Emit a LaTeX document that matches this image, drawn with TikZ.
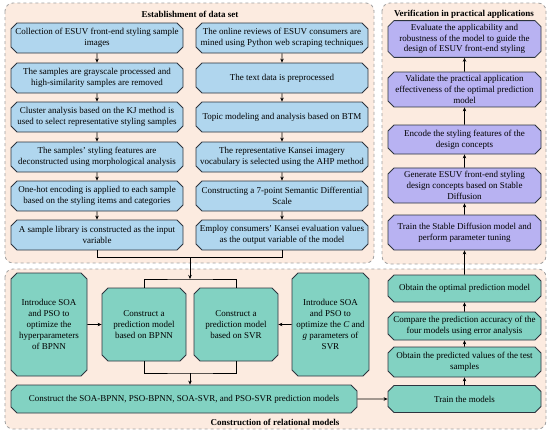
\documentclass[tikz,border=0pt]{standalone}
\usepackage{fontspec}
\setmainfont{Liberation Serif}
\usepackage{tikz}
\usetikzlibrary{shapes.misc, arrows.meta, positioning, backgrounds}
\definecolor{cPanel}{RGB}{252,235,224}
\definecolor{cDash}{RGB}{160,160,160}
\definecolor{cEdge}{RGB}{45,52,62}
\definecolor{cBlue}{RGB}{176,214,238}
\definecolor{cTeal}{RGB}{130,210,194}
\definecolor{cViolet}{RGB}{184,178,242}
\tikzset{
	box/.style     ={chamfered rectangle, chamfered rectangle xsep=3pt, chamfered rectangle ysep=3pt, draw=cEdge, line width=0.8pt, align=center, inner sep=0.5pt},
	databox/.style ={box, fill=cBlue, minimum width=172pt, minimum height=30pt},
	verbox/.style  ={box, fill=cViolet, minimum width=153pt},
	relbox/.style  ={box, fill=cTeal},
	panel/.style   ={draw=cDash, dashed, line width=0.8pt, rounded corners=8pt, fill=cPanel},
	ptitle/.style  ={font=\fontsize{9}{10}\selectfont\bfseries},
	link/.style    ={-{Stealth[length=4pt, width=3.5pt]}, line width=0.6pt},
	plain/.style   ={line width=0.6pt},
}
\begin{document}
\begin{tikzpicture}[x=1pt, y=-1pt, font=\fontsize{9}{10.8}\selectfont]
	\useasboundingbox (0,0) rectangle (550,434);
	% panels
	\draw[panel] (5,3) rectangle (374,263);
	\draw[panel] (382,3) rectangle (546,264);
	\draw[panel] (5,269) rectangle (546,429);
	\node[ptitle] (tdata) at (190,14) {Establishment of data set};
	\node[ptitle] (tver) at (464,14) {Verification in practical applications};
	\node[ptitle] (trel) at (275,422) {Construction of relational models};

	% data set, left column
	\node[databox] (l1) at (97,38) {Collection of ESUV front-end styling sample\\images};
	\node[databox] (l2) at (97,78) {The samples are grayscale processed and\\high-similarity samples are removed};
	\node[databox] (l3) at (97,117) {Cluster analysis based on the KJ method is\\used to select representative styling samples};
	\node[databox] (l4) at (97,157) {The samples' styling features are\\deconstructed using morphological analysis};
	\node[databox] (l5) at (97,196) {One-hot encoding is applied to each sample\\based on the styling items and categories};
	\node[databox] (l6) at (97,235) {A sample library is constructed as the input\\variable};
	% data set, right column
	\node[databox] (r1) at (282,38) {The online reviews of ESUV consumers are\\mined using Python web scraping techniques};
	\node[databox] (r2) at (282,78) {The text data is preprocessed};
	\node[databox] (r3) at (282,117) {Topic modeling and analysis based on BTM};
	\node[databox] (r4) at (282,157) {The representative Kansei imagery\\vocabulary is selected using the AHP method};
	\node[databox] (r5) at (282,196) {Constructing a 7-point Semantic Differential\\Scale};
	\node[databox] (r6) at (282,235) {Employ consumers' Kansei evaluation values\\as the output variable of the model};
	\draw[link] (l1) -- (l2);
	\draw[link] (l2) -- (l3);
	\draw[link] (l3) -- (l4);
	\draw[link] (l4) -- (l5);
	\draw[link] (l5) -- (l6);
	\draw[link] (r1) -- (r2);
	\draw[link] (r2) -- (r3);
	\draw[link] (r3) -- (r4);
	\draw[link] (r4) -- (r5);
	\draw[link] (r5) -- (r6);

	% verification
	\node[verbox, minimum height=32pt] (eva) at (464.5,39) {Evaluate the applicability and\\robustness of the model to guide the\\design of ESUV front-end styling};
	\node[verbox, minimum height=33pt] (val) at (464.5,89.5) {Validate the practical application\\effectiveness of the optimal prediction\\model};
	\node[verbox, minimum height=29pt] (enc) at (464.5,139.5) {Encode the styling features of the\\design concepts};
	\node[verbox, minimum height=35pt] (gen) at (464.5,185.5) {Generate ESUV front-end styling\\design concepts based on Stable\\Diffusion};
	\node[verbox, minimum height=35pt] (trsd) at (464.5,232.5) {Train the Stable Diffusion model and\\perform parameter tuning};
	\draw[link] (trsd) -- (gen);
	\draw[link] (gen) -- (enc);
	\draw[link] (enc) -- (val);
	\draw[link] (val) -- (eva);

	% relational models
	\node[relbox, minimum width=76pt, minimum height=103pt] (introL) at (49,324.5) {Introduce SOA\\and PSO to\\optimize the\\hyperparameters\\of BPNN};
	\node[relbox, minimum width=84pt, minimum height=73pt] (bpnn) at (144,324.5) {Construct a\\prediction model\\based on BPNN};
	\node[relbox, minimum width=84pt, minimum height=73pt] (svr) at (236,324.5) {Construct a\\prediction model\\based on SVR};
	\node[relbox, minimum width=77pt, minimum height=103pt] (introR) at (330.5,324.5) {Introduce SOA\\and PSO to\\optimize the \textit{C} and\\\textit{g} parameters of\\SVR};
	\node[relbox, minimum width=346pt, minimum height=28pt] (models) at (184,399) {Construct the SOA-BPNN, PSO-BPNN, SOA-SVR, and PSO-SVR prediction models};
	\node[relbox, minimum width=153pt, minimum height=27pt] (train) at (464.5,399) {Train the models};
	\node[relbox, minimum width=153pt, minimum height=30pt] (pred) at (464.5,362) {Obtain the predicted values of the test\\samples};
	\node[relbox, minimum width=153pt, minimum height=28pt] (comp) at (464.5,326) {Compare the prediction accuracy of the\\four models using error analysis};
	\node[relbox, minimum width=153pt, minimum height=27pt] (opt) at (464.5,288.5) {Obtain the optimal prediction model};

	% connectors
	\coordinate (mrg) at (190,257);
	\coordinate (spl) at (190,279);
	\coordinate (jn) at (190,373);
	\draw[plain] (l6.south) |- (mrg);
	\draw[plain] (r6.south) |- (mrg);
	\draw[link] (mrg) -- (spl);
	\draw[plain] (bpnn.north) |- (spl) -| (svr.north);
	\draw[link] (introL) -- (bpnn);
	\draw[link] (introR) -- (svr);
	\draw[plain] (bpnn.south) |- (jn) -| (svr.south);
	\draw[link] (jn) -- (jn |- models.north);
	\draw[link] (models) -- (train);
	\draw[link] (train) -- (pred);
	\draw[link] (pred) -- (comp);
	\draw[link] (comp) -- (opt);
	\draw[link] (opt) -- (trsd);
\end{tikzpicture}
\end{document}
